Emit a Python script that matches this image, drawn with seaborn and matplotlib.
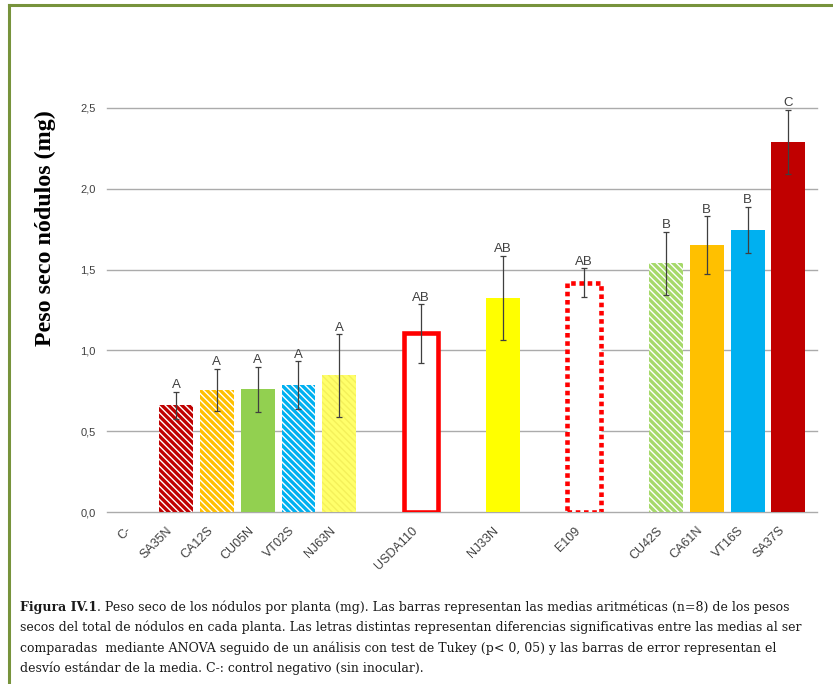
import pandas as pd
import matplotlib
matplotlib.use("Agg")
import matplotlib.pyplot as plt
import matplotlib.transforms as mtransforms
from matplotlib.lines import Line2D
import seaborn as sns

# Data
cepas = ['C-', 'SA35N', 'CA12S', 'CU05N', 'VT02S', 'NJ63N', 'USDA110',
         'NJ33N', 'E109', 'CU42S', 'CA61N', 'VT16S', 'SA37S']
peso = [0.0, 0.66, 0.755, 0.76, 0.785, 0.845, 1.105,
        1.325, 1.42, 1.54, 1.65, 1.745, 2.29]
desvio = [0.0, 0.085, 0.13, 0.14, 0.147, 0.255, 0.18,
          0.26, 0.088, 0.195, 0.18, 0.143, 0.20]
letras = ['', 'A', 'A', 'A', 'A', 'A', 'AB', 'AB', 'AB', 'B', 'B', 'B', 'C']

# category order with blank spacers between groups
orden = ['C-', 'SA35N', 'CA12S', 'CU05N', 'VT02S', 'NJ63N', ' ', 'USDA110', '  ',
         'NJ33N', '   ', 'E109', '    ', 'CU42S', 'CA61N', 'VT16S', 'SA37S']

colores = {'C-': 'white', 'SA35N': '#C00000', 'CA12S': '#FFC000', 'CU05N': '#92D050',
           'VT02S': '#00B0F0', 'NJ63N': '#FFFF6A', 'USDA110': 'white', 'NJ33N': '#FFFF00',
           'E109': 'white', 'CU42S': '#A6D96A', 'CA61N': '#FFC000', 'VT16S': '#00B0F0',
           'SA37S': '#C00000'}
rayado = {'SA35N': 'white', 'CA12S': 'white', 'VT02S': 'white', 'CU42S': 'white',
          'NJ63N': '#F4F05A'}

df = pd.DataFrame({'cepa': cepas, 'peso': peso, 'sd': desvio})

fig = plt.figure(figsize=(8.33, 6.84), dpi=100)
ax = fig.add_axes([107 / 833, 1 - 512 / 684, (817 - 107) / 833, (512 - 108) / 684])

plt.rcParams['hatch.linewidth'] = 1.0
sns.barplot(data=df, x='cepa', y='peso', hue='cepa', order=orden, palette=colores,
            width=0.83, errorbar=None, legend=False, ax=ax, linewidth=0, saturation=1)

for p in ax.patches:
    idx = int(round(p.get_x() + p.get_width() / 2))
    c = orden[idx]
    p.set_linewidth(0)
    if c in rayado:
        p.set_hatch('\\\\\\\\\\')
        p.set_edgecolor(rayado[c])
    if c == 'USDA110':
        p.set_edgecolor('#FF0000')
        p.set_linewidth(3.3)
        p.set_joinstyle('miter')
    if c == 'E109':
        p.set_edgecolor('#FF0000')
        p.set_linewidth(3.3)
        p.set_linestyle((0, (1.0, 0.8)))

# error bars and Tukey letters
for c, v, s, l in zip(cepas, peso, desvio, letras):
    if c == 'C-':
        continue
    x = orden.index(c)
    ax.errorbar(x, v, yerr=s, fmt='none', ecolor='#3F3F3F', elinewidth=0.9,
                capsize=2.5, capthick=0.9, zorder=5)
    ax.annotate(l, (x, v + s), xytext=(0, 0.5), textcoords='offset points',
                ha='center', va='bottom', fontsize=9.5, color='#404040',
                family='Liberation Sans', annotation_clip=False)

ax.set_xlim(-0.69, 16.7)
ax.set_ylim(0, 2.5)
ax.set_yticks([0, 0.5, 1.0, 1.5, 2.0, 2.5])
ax.set_yticklabels(['0,0', '0,5', '1,0', '1,5', '2,0', '2,5'],
                   fontsize=8, color='#404040', family='Liberation Sans')
ax.grid(axis='y', color='#ABABAB', linewidth=1)
for gl in ax.get_ygridlines():
    gl.set_clip_on(False)
ax.set_axisbelow(True)
for sp in ax.spines.values():
    sp.set_visible(False)
ax.tick_params(axis='y', length=0, pad=8)
ax.tick_params(axis='x', length=0, pad=9)
ax.set_xlabel('')
ax.set_ylabel('')
ax.set_xticks(range(len(orden)))
ax.set_xticklabels(orden, rotation=45, ha='right', rotation_mode='anchor',
                   fontsize=9, color='#404040', family='Liberation Sans')
shift = mtransforms.ScaledTranslation(-7 / 72, 0, fig.dpi_scale_trans)
for lab in ax.get_xticklabels():
    lab.set_transform(lab.get_transform() + shift)

fig.text(45 / 833, 1 - 228 / 684, 'Peso seco nódulos (mg)', rotation=90,
         ha='center', va='center', fontsize=17.3, fontweight='bold',
         family='Liberation Serif', color='black')

# green frame
verde = '#77933C'
fig.add_artist(Line2D([9 / 833, 1], [1 - 5 / 684, 1 - 5 / 684], color=verde, lw=2.2,
                      transform=fig.transFigure))
fig.add_artist(Line2D([9 / 833, 9 / 833], [1 - 5 / 684, 0], color=verde, lw=2.2,
                      transform=fig.transFigure))

# caption
lineas = [
    '. Peso seco de los nódulos por planta (mg). Las barras representan las medias aritméticas (n=8) de los pesos',
    'secos del total de nódulos en cada planta. Las letras distintas representan diferencias significativas entre las medias al ser',
    'comparadas  mediante ANOVA seguido de un análisis con test de Tukey (p< 0, 05) y las barras de error representan el',
    'desvío estándar de la media. C-: control negativo (sin inocular).',
]
fam = 'DejaVu Serif'
x0 = 20 / 833
ys = [611, 631, 652, 672]
r = fig.canvas.get_renderer()
prueba = fig.text(0, 0, lineas[1], fontsize=10, family=fam)
w = prueba.get_window_extent(r).width
prueba.remove()
fs = 10 * 788 / w

negrita = fig.text(x0, 1 - ys[0] / 684, 'Figura IV.1', fontsize=fs, fontweight='bold',
                   family=fam, va='baseline', color='#1A1A1A')
bb = negrita.get_window_extent(r)
fig.text(bb.x1 / 833, 1 - ys[0] / 684, lineas[0], fontsize=fs,
         family=fam, va='baseline', color='#1A1A1A')
for t, y in zip(lineas[1:], ys[1:]):
    fig.text(x0, 1 - y / 684, t, fontsize=fs, family=fam,
             va='baseline', color='#1A1A1A')

fig.savefig('out.png', dpi=100)
